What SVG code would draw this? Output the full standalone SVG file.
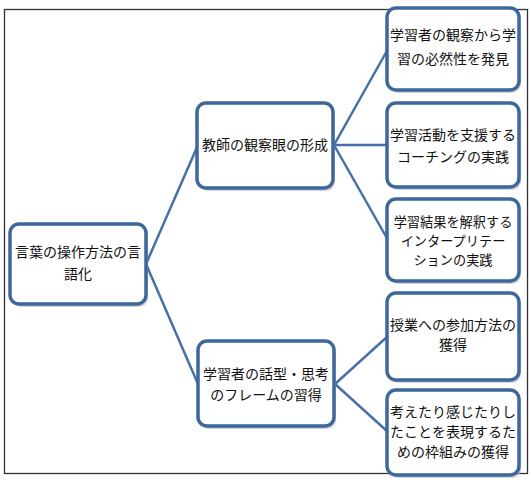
<svg xmlns="http://www.w3.org/2000/svg" width="531" height="486" viewBox="0 0 531 486">
<defs>
<style>
.frame{fill:none;stroke:#333;stroke-width:1.3}
.box{fill:#fff;stroke:#3e679c;stroke-width:3.5}
.sh{fill:#b8b8b8;opacity:0.6}
.con line{stroke:#4670a6;stroke-width:2.5}
text{font-family:"Noto Sans CJK JP","Noto Sans CJK SC",sans-serif;font-size:14px;fill:#111;text-anchor:middle}
.t3{font-size:13.2px}
</style>
</defs>
<rect width="531" height="486" fill="#fff"/>
<rect class="frame" x="4.5" y="9.5" width="523" height="464"/>
<g class="con">
<line x1="146" y1="264" x2="198" y2="145"/>
<line x1="146" y1="264" x2="198" y2="384"/>
<line x1="334" y1="145" x2="388" y2="49"/>
<line x1="334" y1="145" x2="388" y2="145"/>
<line x1="334" y1="145" x2="388" y2="240"/>
<line x1="335" y1="384" x2="388" y2="336"/>
<line x1="335" y1="384" x2="388" y2="432"/>
</g>
<g id="n0">
<rect class="sh" x="12" y="227" width="136" height="80" rx="9"/>
<rect class="box" x="10" y="224" width="136" height="80" rx="9"/>
<text x="78" y="257">言葉の操作方法の言</text>
<text x="78" y="279">語化</text>
</g>
<g id="n1">
<rect class="sh" x="199" y="106" width="136" height="85" rx="9"/>
<rect class="box" x="197" y="103" width="136" height="85" rx="9"/>
<text x="265" y="150">教師の観察眼の形成</text>
</g>
<g id="n2">
<rect class="sh" x="200" y="344" width="136" height="85" rx="9"/>
<rect class="box" x="198" y="341" width="136" height="85" rx="9"/>
<text x="266" y="379">学習者の話型・思考</text>
<text x="266" y="400">のフレームの習得</text>
</g>
<g id="n3">
<rect class="sh" x="389" y="11" width="132" height="82" rx="9"/>
<rect class="box" x="387" y="8" width="132" height="82" rx="9"/>
<text x="453" y="40">学習者の観察から学</text>
<text x="453" y="64">習の必然性を発見</text>
</g>
<g id="n4">
<rect class="sh" x="389" y="106" width="132" height="84" rx="9"/>
<rect class="box" x="387" y="103" width="132" height="84" rx="9"/>
<text x="453" y="140">学習活動を支援する</text>
<text x="453" y="162">コーチングの実践</text>
</g>
<g id="n5">
<rect class="sh" x="389" y="202" width="132" height="82" rx="9"/>
<rect class="box" x="387" y="199" width="132" height="82" rx="9"/>
<text class="t3" x="453" y="227">学習結果を解釈する</text>
<text class="t3" x="453" y="246">インタープリテー</text>
<text class="t3" x="453" y="265">ションの実践</text>
</g>
<g id="n6">
<rect class="sh" x="389" y="296" width="132" height="87" rx="9"/>
<rect class="box" x="387" y="293" width="132" height="87" rx="9"/>
<text x="453" y="330">授業への参加方法の</text>
<text x="453" y="350">獲得</text>
</g>
<g id="n7">
<rect class="sh" x="389" y="393" width="132" height="85" rx="9"/>
<rect class="box" x="387" y="390" width="132" height="85" rx="9"/>
<text x="453" y="417">考えたり感じたりし</text>
<text x="453" y="437">たことを表現するた</text>
<text x="453" y="457">めの枠組みの獲得</text>
</g>
</svg>
